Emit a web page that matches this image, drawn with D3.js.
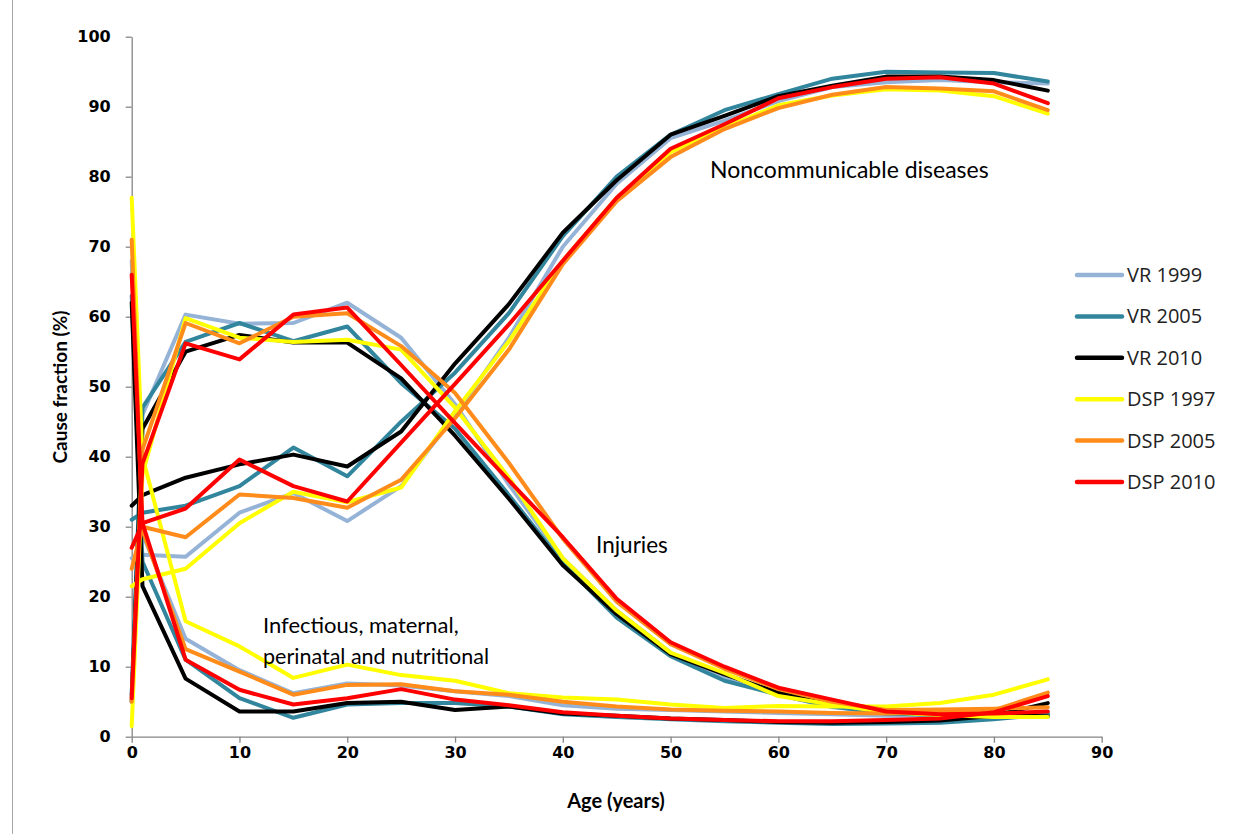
<!DOCTYPE html>
<html><head><meta charset="utf-8">
<script src="https://cdn.jsdelivr.net/npm/d3@7"></script>
<style>
body{margin:0;background:#fff}
svg{display:block}
</style>
</head><body>
<svg id="chart" width="1249" height="834"></svg>
<script>
// ---------------- data ----------------
const ages = [0,1,5,10,15,20,25,30,35,40,45,50,55,60,65,70,75,80,85];
const seriesNames = ["VR 1999","VR 2005","VR 2010","DSP 1997","DSP 2005","DSP 2010"];
const xTicks = [0,10,20,30,40,50,60,70,80,90];
const yTicks = [0,10,20,30,40,50,60,70,80,90,100];

// Noncommunicable diseases (%)
const ncdVR1999  = [25.5,26,25.7,32,34.8,30.8,35.8,46,57,70,79,85.5,88,90.8,92.8,93.5,93.8,93.5,93.3];
const ncdVR2005  = [31,32,33,35.8,41.3,37.2,45,52,60.5,71.5,80,86,89.5,91.8,94,95,94.9,94.8,93.6];
const ncdVR2010  = [33,34.5,37,38.9,40.3,38.6,43.6,53.3,61.8,72,79.5,86,88.7,91.5,93,94.3,94.3,93.8,92.3];
const ncdDSP1997 = [21.5,22.5,24,30.5,35,33.5,35.6,46.5,56.5,68,77,83.5,87,90.2,91.6,92.5,92.3,91.5,89];
const ncdDSP2005 = [24,30,28.5,34.6,34.1,32.7,36.7,45.5,55.3,67.5,76.5,82.8,86.8,89.8,91.7,92.8,92.6,92.2,89.5];
const ncdDSP2010 = [27,30.5,32.6,39.6,35.8,33.6,42,50.4,58.9,68,77,84,87.5,91.2,92.8,94,94.2,93.3,90.5];

// Injuries (%)
const injVR1999  = [6,46,60.3,59,59.1,62,57,47.5,36,25.5,18,12,8.5,6,4.2,3.5,3.2,3.5,3.2];
const injVR2005  = [6,47,56.4,59.1,56.5,58.6,50.5,44,34.5,24.8,17,11.5,8,6,4.3,3.3,3.1,2.8,3.2];
const injVR2010  = [5,44,55,57.4,56.3,56.3,51.2,43,34,24.5,17.5,11.8,8.9,6.3,4.8,3.6,3.4,3.2,2.9];
const injDSP1997 = [1.5,37.5,59.8,57,56.4,56.7,55.3,47,37,25.5,18,12,9.1,5.8,4.6,3.5,3.1,2.8,2.8];
const injDSP2005 = [5,41,59.1,56.2,60,60.5,55.8,49.1,39.1,28.3,19.3,13.2,9.7,6.8,5,3.8,3.9,4,4.2];
const injDSP2010 = [5.5,39,56.2,53.9,60.3,61.3,53.1,44.8,36.6,28.5,19.7,13.5,10,7,5.3,3.6,3.2,3.3,3.6];

// Infectious, maternal, perinatal and nutritional (%)
const infVR1999  = [68,29,14,9.5,6.2,7.6,7.3,6.5,5.8,4.5,4,3.8,3.6,3.4,3.2,3,3,3,3.5];
const infVR2005  = [63,25,11,5.5,2.7,4.6,4.8,4.8,4.3,3.2,2.8,2.5,2.2,2,1.8,1.9,2,2.5,3.2];
const infVR2010  = [62,21.5,8.3,3.6,3.6,4.8,5,3.8,4.3,3.3,3,2.6,2.4,2.1,2,2.1,2.3,3,4.8];
const infDSP1997 = [77,40,16.5,12.9,8.4,10.3,8.8,8,6.2,5.6,5.3,4.6,4.1,4.4,4.3,4.3,4.8,6,8.2];
const infDSP2005 = [71,29.5,12.5,9.3,6,7.4,7.5,6.5,6,5,4.3,3.9,3.7,3.6,3.4,3.3,3.5,3.8,6.3];
const infDSP2010 = [66,30.5,11,6.7,4.6,5.5,6.8,5.3,4.5,3.5,3,2.6,2.4,2.2,2.2,2.4,2.6,3.5,5.8];

const groupLabels = ["Noncommunicable diseases","Injuries","Infectious, maternal,","perinatal and nutritional"];

// ---------------- styling ----------------
const palette = ["#95b3d7","#31859c","#000000","#ffff00","#ff8c1a","#ff0000"];
const seriesData = [
  [ncdVR1999, injVR1999, infVR1999],
  [ncdVR2005, injVR2005, infVR2005],
  [ncdVR2010, injVR2010, infVR2010],
  [ncdDSP1997, injDSP1997, infDSP1997],
  [ncdDSP2005, injDSP2005, infDSP2005],
  [ncdDSP2010, injDSP2010, infDSP2010]
];
const LATO = "Lato, 'Open Sans', sans-serif";

const svg = d3.select("#chart");
svg.append("rect").attr("width",1249).attr("height",834).attr("fill","#fff");
svg.append("line").attr("x1",12.5).attr("x2",12.5).attr("y1",0).attr("y2",834)
  .attr("stroke","#a6a6a6").attr("stroke-width",1);

const x = d3.scaleLinear().domain([0,90]).range([131.7,1101.7]);
const y = d3.scaleLinear().domain([0,100]).range([736.7,36.7]);

const axisColor = "#868686";
const gx = svg.append("g").attr("transform",`translate(0,${y(0)})`)
  .call(d3.axisBottom(x).tickValues(xTicks).tickSize(6).tickSizeOuter(0).tickPadding(4));
const gy = svg.append("g").attr("transform",`translate(${x(0)},0)`)
  .call(d3.axisLeft(y).tickValues(yTicks).tickSize(6).tickSizeOuter(0).tickPadding(15));
[gx,gy].forEach(g=>{
  g.select(".domain").attr("stroke",axisColor).attr("stroke-width",1.3);
  g.selectAll(".tick line").attr("stroke",axisColor).attr("stroke-width",1.3);
  g.selectAll(".tick text").style("font-family","'DejaVu Sans', sans-serif").style("font-weight","bold")
    .style("font-size","16px").attr("fill","#000");
});

const line = d3.line().x((d,i)=>x(ages[i])).y(d=>y(d));
const plot = svg.append("g");
seriesData.forEach((groups,si)=>{
  groups.forEach(vals=>{
    plot.append("path").datum(vals).attr("d",line)
      .attr("fill","none").attr("stroke",palette[si]).attr("stroke-width",4)
      .attr("stroke-linejoin","round").attr("stroke-linecap","round");
  });
});

// annotations
const ann = [
  {t:groupLabels[0], x:710, y:178, s:23},
  {t:groupLabels[1], x:596, y:553, s:22.5},
  {t:groupLabels[2], x:263, y:633, s:22},
  {t:groupLabels[3], x:263, y:664, s:21.5}
];
ann.forEach(a=>svg.append("text").attr("x",a.x).attr("y",a.y)
  .style("font-family",LATO).style("font-size",a.s+"px").attr("fill","#000").text(a.t));

// axis titles
svg.append("text").attr("x",616).attr("y",808).attr("text-anchor","middle")
  .style("font-family",LATO).style("font-weight","bold").style("font-size","20px").text("Age (years)");
svg.append("text").attr("transform","translate(67,387) rotate(-90)").attr("text-anchor","middle")
  .style("font-family",LATO).style("font-weight","bold").style("font-size","19px").text("Cause fraction (%)");

// legend
const leg = svg.append("g");
seriesNames.forEach((n,i)=>{
  const yy = 275 + i*41.4;
  leg.append("line").attr("x1",1077).attr("x2",1122).attr("y1",yy).attr("y2",yy)
    .attr("stroke",palette[i]).attr("stroke-width",4.5).attr("stroke-linecap","round");
  leg.append("text").attr("x",1127).attr("y",yy+7).style("font-family","'Open Sans', sans-serif")
    .style("font-size","20px").attr("fill","#222").text(n);
});
</script>
</body></html>
